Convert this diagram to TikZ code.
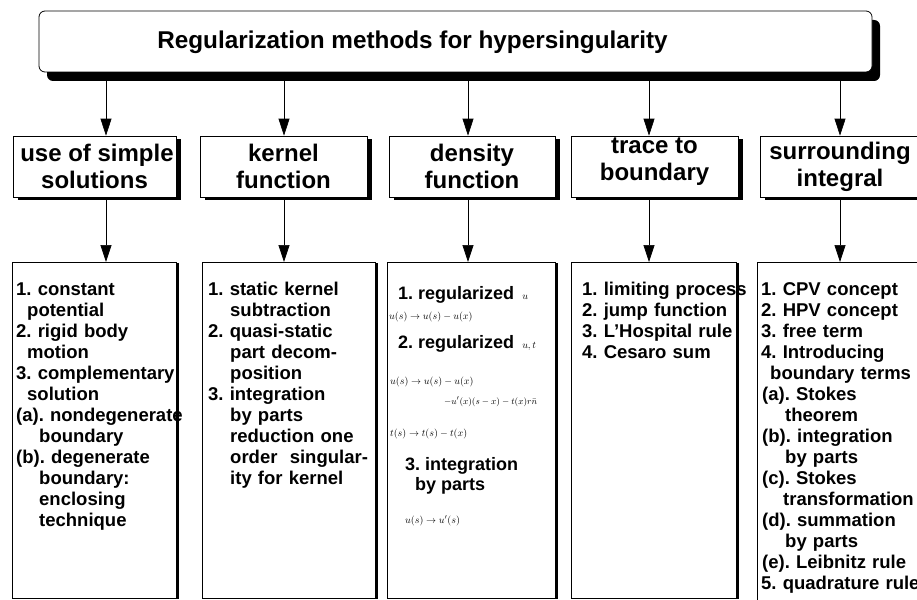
\documentclass[tikz,border=0pt]{standalone}
\usepackage{amsmath}
\usepackage{fontspec}
\setmainfont{Liberation Sans}
\usetikzlibrary{arrows.meta,shadows}
\setlength{\lineskiplimit}{-20pt}
\frenchspacing
\tikzset{
  topbox/.style={draw=black,fill=white,rounded corners=6pt,line width=0.8pt,inner sep=0pt,
                 drop shadow={shadow xshift=8pt,shadow yshift=-9pt,fill=black,opacity=1}},
  headbox/.style={draw=black,fill=white,line width=0.7pt,align=center,inner sep=0pt,
                  minimum height=61pt,font=\fontsize{24}{27}\selectfont\bfseries,
                  drop shadow={shadow xshift=5pt,shadow yshift=-2.5pt,fill=black,opacity=1}},
  listbox/.style={draw=black,fill=white,line width=0.7pt,inner sep=0pt,anchor=north west,
                  minimum height=336pt,
                  drop shadow={shadow xshift=2.5pt,shadow yshift=-1pt,fill=black,opacity=1}},
  listtxt/.style={anchor=base west,inner sep=0pt,text width=200pt,align=left,
                  font=\fontsize{18.5}{21}\selectfont\bfseries},
  itemtxt/.style={anchor=base west,inner sep=0pt,font=\fontsize{18}{21}\selectfont\bfseries},
  formula/.style={anchor=base west,inner sep=0pt,font=\fontsize{10}{12}\selectfont},
  ar/.style={-{Triangle[length=17pt,width=11pt]},line width=0.7pt},
}
\begin{document}
\begin{tikzpicture}[x=1pt,y=-1pt]
  \useasboundingbox (0,0) rectangle (917,599);
  \clip (0,0) rectangle (917,599);
  % main box
  \node[topbox,minimum width=833pt,minimum height=61pt] (top) at (455.5,41.5) {};
  \node[anchor=base,inner sep=0pt,font=\fontsize{24.3}{30}\selectfont\bfseries] (title) at (412.5,49)
    {Regularization methods for hypersingularity};
  % second row
  \node[headbox,minimum width=163pt] (simple) at (94.5,166.5) {\hspace*{5pt}use of simple\\solutions};
  \node[headbox,minimum width=167pt] (kernel) at (283.5,166.5) {kernel\\function};
  \node[headbox,minimum width=166pt] (density) at (472,166.5) {density\\function};
  \node[headbox,minimum width=167pt,text depth=14pt] (trace) at (654.5,166.5) {trace to\\boundary};
  \node[headbox,minimum width=160pt] (surround) at (840,166.5) {surrounding\\integral};
  % third row
  \node[listbox,minimum width=164pt] (lsimple) at (12,262) {};
  \node[listbox,minimum width=173pt] (lkernel) at (202,262) {};
  \node[listbox,minimum width=168pt] (ldensity) at (387,262) {};
  \node[listbox,minimum width=165pt] (ltrace) at (571,262) {};
  \node[listbox,minimum width=168pt,minimum height=345pt] (lsurround) at (757,262) {};
  % arrows
  \coordinate (ka) at (106,0);
  \coordinate (kb) at (284,0);
  \coordinate (kc) at (468,0);
  \coordinate (kd) at (649,0);
  \coordinate (ke) at (840,0);
  \draw[ar] (top.south -| ka) -- (simple.north -| ka);
  \draw[ar] (top.south -| kb) -- (kernel.north -| kb);
  \draw[ar] (top.south -| kc) -- (density.north -| kc);
  \draw[ar] (top.south -| kd) -- (trace.north -| kd);
  \draw[ar] (top.south -| ke) -- (surround.north -| ke);
  \draw[ar] (simple.south -| ka) -- (lsimple.north -| ka);
  \draw[ar] (kernel.south -| kb) -- (lkernel.north -| kb);
  \draw[ar] (density.south -| kc) -- (ldensity.north -| kc);
  \draw[ar] (trace.south -| kd) -- (ltrace.north -| kd);
  \draw[ar] (surround.south -| ke) -- (lsurround.north -| ke);
  % lists
  \node[listtxt] (tsimple) at (16,295) {1. constant\\\hspace*{11pt}potential\\2. rigid body\\\hspace*{11pt}motion\\
    3. complementary\\\hspace*{11pt}solution\\(a). nondegenerate\\\hspace*{23pt}boundary\\
    (b). degenerate\\\hspace*{23pt}boundary:\\\hspace*{23pt}enclosing\\\hspace*{23pt}technique};
  \node[listtxt] (tkernel) at (208,295) {1. static kernel\\\hspace*{22pt}subtraction\\2. quasi-static\\
    \hspace*{22pt}part decom-\\\hspace*{22pt}position\\3. integration\\\hspace*{22pt}by parts\\
    \hspace*{22pt}reduction one\\\hspace*{22pt}order\ \ singular-\\\hspace*{22pt}ity for kernel};
  \node[listtxt] (ttrace) at (582,295) {1. limiting process\\2. jump function\\3. L'Hospital rule\\4. Cesaro sum};
  \node[listtxt] (tsurround) at (761,295) {1. CPV concept\\2. HPV concept\\3. free term\\4. Introducing\\
    \hspace*{9pt}boundary terms\\\hspace*{1pt}(a). Stokes\\\hspace*{24pt}theorem\\\hspace*{1pt}(b). integration\\
    \hspace*{24pt}by parts\\\hspace*{1pt}(c). Stokes\\\hspace*{22pt}transformation\\\hspace*{1pt}(d). summation\\
    \hspace*{24pt}by parts\\\hspace*{1pt}(e). Leibnitz rule\\5. quadrature rule};
  \node[itemtxt] (dA) at (398,299) {1. regularized \,{\normalfont\fontsize{10}{12}\selectfont$u$}};
  \node[formula] (dB) at (389,319) {$u(s)\rightarrow u(s)-u(x)$};
  \node[itemtxt] (dC) at (398,348) {2. regularized \,{\normalfont\fontsize{10}{12}\selectfont$u,t$}};
  \node[formula] (dD) at (390,384) {$u(s)\rightarrow u(s)-u(x)$};
  \node[formula,font=\fontsize{9.5}{12}\selectfont] (dE) at (444,404) {$-u'(x)(s-x)-t(x)r\bar{n}$};
  \node[formula] (dF) at (390,436) {$t(s)\rightarrow t(s)-t(x)$};
  \node[itemtxt] (dG) at (405,470) {3. integration};
  \node[itemtxt] (dH) at (415,490) {by parts};
  \node[formula] (dI) at (405,523) {$u(s)\rightarrow u'(s)$};
\end{tikzpicture}
\end{document}
